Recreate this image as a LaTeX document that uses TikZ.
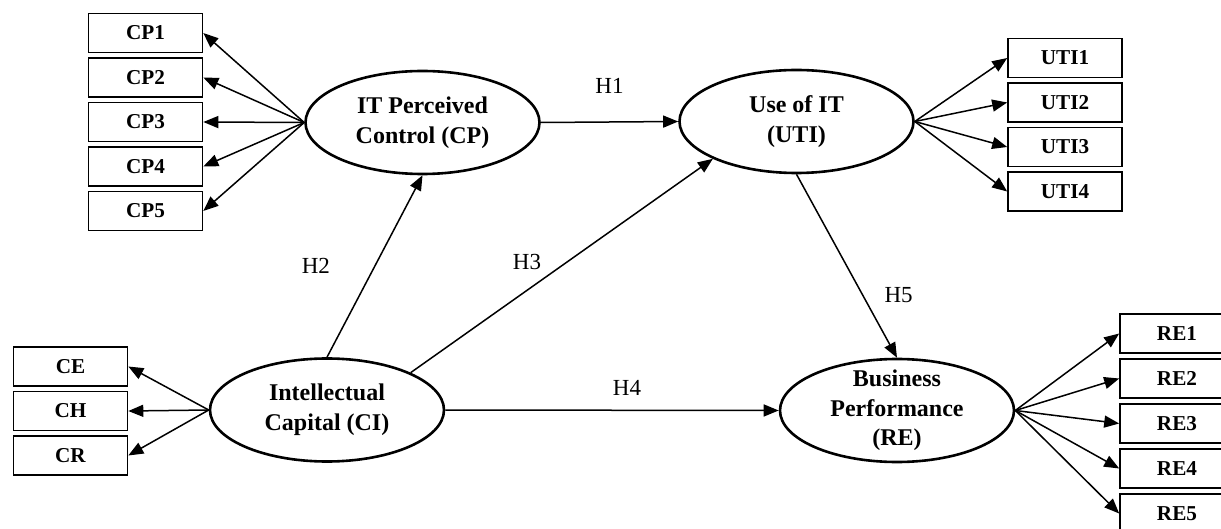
\documentclass[tikz,border=0pt]{standalone}
\usepackage{fontspec}
\setmainfont{Liberation Serif}
\usetikzlibrary{arrows.meta,shapes.geometric}

\begin{document}
\begin{tikzpicture}[x=0.5pt,y=-0.5pt,node distance=22.25pt,
        >={Triangle[length=7.5pt,width=6pt]},line width=0.75pt]
        \tikzstyle{item}=[draw,rectangle,line width=0.8pt,minimum width=57pt,
                minimum height=19.5pt,inner sep=0pt,font=\bfseries\fontsize{10.6}{12}\selectfont]
        \tikzstyle{latent}=[draw,ellipse,line width=1.3pt,minimum width=117pt,
                minimum height=51.5pt,inner xsep=0pt,inner ysep=-3pt,align=center,
                font=\bfseries\fontsize{12}{14.8}\selectfont]
        \tikzstyle{hyp}=[inner sep=0pt,font=\fontsize{11.5}{13}\selectfont]

        \clip (0,0) rectangle (1221,529);

        \node[latent] (CP)  at (422.5,122.5) {IT Perceived\\Control (CP)};
        \node[latent] (UTI) at (796.5,121.5) {Use of IT\\(UTI)};
        \node[latent] (CI)  at (327,410)     {Intellectual\\Capital (CI)};
        \node[latent] (RE)  at (897,410.5)   {Business\\Performance\\(RE)};

        \node[item]  (CP1) at (145.5,33)     {CP1}; % CP
        \node[item]  (CP2) [below of=CP1]    {CP2};
        \node[item]  (CP3) [below of=CP2]    {CP3};
        \node[item]  (CP4) [below of=CP3]    {CP4};
        \node[item]  (CP5) [below of=CP4]    {CP5};
        \node[item]  (UTI1) at (1065,58)     {UTI1}; % UTI
        \node[item]  (UTI2) [below of=UTI1]  {UTI2};
        \node[item]  (UTI3) [below of=UTI2]  {UTI3};
        \node[item]  (UTI4) [below of=UTI3]  {UTI4};
        \node[item]  (CE) at (70.5,366.5)    {CE}; % CI
        \node[item]  (CH) [below of=CE]      {CH};
        \node[item]  (CR) [below of=CH]      {CR};
        \begin{scope}[node distance=22.5pt]
        \node[item]  (RE1) at (1177,333.5)   {RE1}; % RE
        \node[item]  (RE2) [below of=RE1]    {RE2};
        \node[item]  (RE3) [below of=RE2]    {RE3};
        \node[item]  (RE4) [below of=RE3]    {RE4};
        \node[item]  (RE5) [below of=RE4]    {RE5};
        \end{scope}

        \path[->]
                  (CP.west)  edge (CP1.east)
                             edge (CP2.east)
                             edge (CP3.east)
                             edge (CP4.east)
                             edge (CP5.east)
                  (UTI.east) edge (UTI1.west)
                             edge (UTI2.west)
                             edge (UTI3.west)
                             edge (UTI4.west)
                  (CI.west)  edge (CE.east)
                             edge (CH.east)
                             edge (CR.east)
                  (RE.east)  edge (RE1.west)
                             edge (RE2.west)
                             edge (RE3.west)
                             edge (RE4.west)
                             edge (RE5.west)
                  (CP.east)  edge node[hyp,above=13.75pt]            {H1} (UTI.west)
                  (CI.north) edge node[hyp,left=22pt]                {H2} (CP.south)
                  (CI.north east) edge node[hyp,left=10pt,yshift=2pt] {H3} (UTI.south west)
                  (CI.east)  edge node[hyp,above=7.25pt,xshift=7.5pt] {H4} (RE.west)
                  (UTI.south) edge node[hyp,pos=0.66,right=10.5pt]   {H5} (RE.north);
\end{tikzpicture}
\end{document}
